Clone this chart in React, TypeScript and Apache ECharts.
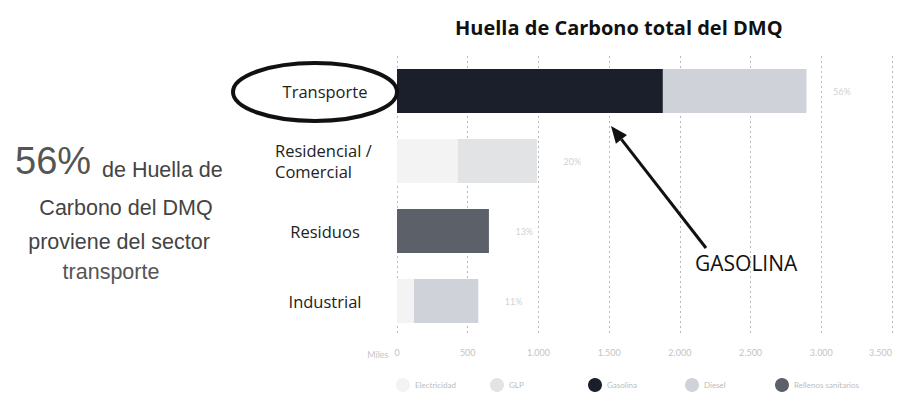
import React, { useEffect, useRef } from "react";
import * as echarts from "echarts";

const categories = ["Transporte", "Residencial /\nComercial", "Residuos", "Industrial"];
const electricidad = [0, 430, 0, 120];
const glp = [0, 560, 0, 0];
const gasolina = [1880, 0, 0, 0];
const diesel = [1015, 0, 0, 455];
const rellenos = [0, 0, 650, 0];
const percentLabels = ["56%", "20%", "13%", "11%"];
const xTicks = [0, 500, 1000, 1500, 2000, 2500, 3000, 3500];

const seriesNames = ["Electricidad", "GLP", "Gasolina", "Diesel", "Rellenos sanitarios"];
const seriesColors = ["#f3f3f3", "#e2e3e5", "#1b1f2b", "#cfd2d8", "#5c6068"];
const legendLefts = [383, 477, 575, 672, 762];

export default function App() {
  const ref = useRef<HTMLDivElement>(null);
  useEffect(() => {
    if (!ref.current) return;
    const chart = echarts.init(ref.current, null, { renderer: "svg" });
    const values = [electricidad, glp, gasolina, diesel, rellenos];
    const totals = categories.map((_, i) => values.reduce((s, arr) => s + arr[i], 0));
    const fmt = (v: number) => (v >= 1000 ? Math.floor(v / 1000) + "." + String(v % 1000).padStart(3, "0") : String(v));

    const barSeries = seriesNames.map((name, k) => ({
      name,
      type: "bar",
      stack: "total",
      barWidth: 44,
      itemStyle: { color: seriesColors[k] },
      data: values[k],
    }));

    const arrowTip = [603, 118];
    const arrowTail = [698, 240];
    const dx = arrowTail[0] - arrowTip[0];
    const dy = arrowTail[1] - arrowTip[1];
    const len = Math.sqrt(dx * dx + dy * dy);
    const ux = dx / len, uy = dy / len;
    const px = -uy, py = ux;
    const hl = 17, hw = 7;
    const bx = arrowTip[0] + ux * hl, by = arrowTip[1] + uy * hl;

    const leftFont = "21.5px 'Liberation Sans'";

    chart.setOption({
      animation: false,
      title: {
        text: "Huella de Carbono total del DMQ",
        left: 442,
        top: 4,
        textStyle: { fontFamily: "Open Sans", fontWeight: "bold", fontSize: 20, color: "#111" },
      },
      grid: { left: 389, right: 10, top: 48, height: 280, containLabel: false },
      xAxis: {
        type: "value",
        min: 0,
        max: 3500,
        interval: 500,
        name: "Miles",
        nameLocation: "start",
        nameGap: 8,
        nameTextStyle: { color: "#c4c4c4", fontSize: 9, fontFamily: "Lato", verticalAlign: "top", padding: [14, 0, 0, 0] },
        axisLine: { show: false },
        axisTick: { show: false },
        axisLabel: {
          color: "#c4c4c4",
          fontSize: 9,
          fontFamily: "Lato",
          margin: 12,
          alignMaxLabel: "right",
          formatter: (v: number) => (xTicks.includes(v) ? fmt(v) : ""),
        },
        splitLine: { show: true, lineStyle: { type: [2, 3], color: "#b8b8b8", width: 1 } },
      },
      yAxis: {
        type: "category",
        inverse: true,
        data: categories,
        axisLine: { show: false },
        axisTick: { show: false },
        axisLabel: {
          color: "#222",
          fontSize: 16.5,
          fontFamily: "Open Sans",
          align: "center",
          margin: 72,
          lineHeight: 21,
          formatter: (v: string) =>
            v.includes("\n") ? v.split("\n").map((s) => `{l|${s}}`).join("\n") : v,
          rich: {
            l: { width: 100, align: "left", fontSize: 16.5, fontFamily: "Open Sans", color: "#222", lineHeight: 21 },
          },
        },
      },
      legend: seriesNames.map((name, k) => ({
        data: [name],
        left: legendLefts[k],
        top: 365,
        icon: "circle",
        itemWidth: 14,
        itemHeight: 14,
        itemGap: 0,
        textStyle: { color: "#bdbdbd", fontSize: 8, fontFamily: "Lato" },
      })),
      series: [
        ...barSeries,
        {
          name: "pct",
          type: "scatter",
          symbolSize: 1,
          itemStyle: { color: "rgba(0,0,0,0)" },
          data: totals.map((t, i) => [t, categories[i]]),
          label: {
            show: true,
            position: "right",
            distance: 26,
            color: "#c4c4c4",
            fontSize: 9,
            fontFamily: "Lato",
            formatter: (p: any) => percentLabels[p.dataIndex],
          },
        },
      ],
      graphic: [
        {
          type: "ellipse",
          shape: { cx: 307, cy: 84, rx: 82, ry: 29 },
          style: { fill: "none", stroke: "#111", lineWidth: 4 },
          z: 100,
        },
        {
          type: "line",
          shape: { x1: bx, y1: by, x2: arrowTail[0], y2: arrowTail[1] },
          style: { stroke: "#111", lineWidth: 3 },
          z: 100,
        },
        {
          type: "polygon",
          shape: {
            points: [
              [arrowTip[0], arrowTip[1]],
              [bx + px * hw, by + py * hw],
              [bx - px * hw, by - py * hw],
            ],
          },
          style: { fill: "#111" },
          z: 100,
        },
        {
          type: "text",
          x: 687,
          y: 255,
          style: { text: "GASOLINA", fill: "#111", font: "21px 'Open Sans'", verticalAlign: "middle" },
          z: 100,
        },
        {
          type: "text",
          x: 7,
          y: 153,
          style: { text: "56%", fill: "#555", font: "38px 'Liberation Sans'", verticalAlign: "middle" },
        },
        {
          type: "text",
          x: 94,
          y: 162,
          style: { text: "de Huella de", fill: "#444", font: leftFont, verticalAlign: "middle" },
        },
        {
          type: "text",
          x: 118,
          y: 200,
          style: { text: "Carbono del DMQ", fill: "#444", font: leftFont, align: "center", verticalAlign: "middle" },
        },
        {
          type: "text",
          x: 111,
          y: 234,
          style: { text: "proviene del sector", fill: "#444", font: leftFont, align: "center", verticalAlign: "middle" },
        },
        {
          type: "text",
          x: 103,
          y: 264,
          style: { text: "transporte", fill: "#555", font: leftFont, align: "center", verticalAlign: "middle" },
        },
      ],
    });
    return () => chart.dispose();
  }, []);
  return <div ref={ref} style={{ width: 894, height: 395 }} />;
}
